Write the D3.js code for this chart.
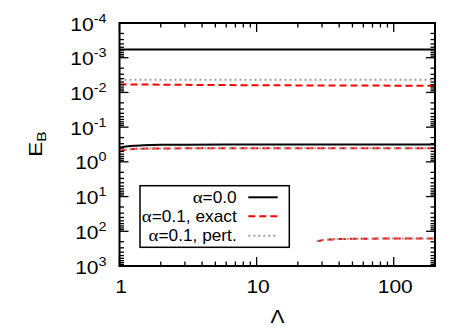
<!DOCTYPE html>
<html>
<head>
<meta charset="utf-8">
<script src="https://cdn.jsdelivr.net/npm/d3@7"></script>
<style>
  body { margin: 0; background: #fff; }
  svg { display: block; }
  text { font-family: "Liberation Sans", Arial, sans-serif; fill: #000; }
</style>
</head>
<body>
<svg id="chart" width="466" height="327"></svg>
<script>
// tick labels
const lambdaTicks = [1, 10, 100];
const energyExps = [-4, -3, -2, -1, 0, 1, 2, 3];

// [Lambda, E_B]
const alpha0Top = [[1, 5.8e-4], [10, 5.8e-4], [200, 5.8e-4]];
const alpha0Mid = [[1, 0.39], [1.2, 0.35], [1.5, 0.333], [2, 0.323], [3, 0.319], [10, 0.318], [200, 0.318]];
const exactTop = [[1, 5.85e-3], [3, 6.05e-3], [10, 6.2e-3], [30, 6.3e-3], [200, 6.4e-3]];
const exactMid = [[1, 0.48], [1.15, 0.44], [1.4, 0.42], [2, 0.41], [5, 0.408], [200, 0.408]];
const exactLow = [[27.5, 195], [30, 182], [35, 172], [45, 166], [70, 163], [120, 161], [200, 160]];
const pertTop = [[1, 4.3e-3], [10, 4.3e-3], [200, 4.3e-3]];
const pertMid = [[1, 0.47], [1.15, 0.435], [1.4, 0.418], [2, 0.41], [5, 0.407], [200, 0.407]];
const pertLow = [[27.5, 193], [30, 181], [35, 172], [45, 166], [70, 163], [120, 161], [200, 160]];

const legendLabels = ['α=0.0', 'α=0.1, exact', 'α=0.1, pert.'];

const box = { left: 119.5, right: 435, top: 23, bottom: 266 };

const svg = d3.select('#chart');

const x = d3.scaleLog().domain([1, 200]).range([box.left, box.right]);
const y = d3.scaleLog().domain([1e-4, 1e3]).range([box.top, box.bottom]);

const styles = {
  black: { stroke: '#000', width: 2, dash: null },
  red: { stroke: '#ff0000', width: 2, dash: '7,4' },
  gray: { stroke: '#a0a0a0', width: 2, dash: '2,3' }
};

const line = d3.line()
  .x(d => x(d[0]))
  .y(d => y(d[1]))
  .curve(d3.curveMonotoneX);

const plot = svg.append('g');
plot.append('clipPath').attr('id', 'clip')
  .append('rect')
  .attr('x', box.left).attr('y', box.top)
  .attr('width', box.right - box.left).attr('height', box.bottom - box.top);

const series = [
  { data: alpha0Top, s: styles.black },
  { data: alpha0Mid, s: styles.black },
  { data: exactTop, s: styles.red },
  { data: exactMid, s: styles.red },
  { data: exactLow, s: styles.red },
  { data: pertTop, s: styles.gray },
  { data: pertMid, s: styles.gray },
  { data: pertLow, s: styles.gray }
];

plot.append('g').attr('clip-path', 'url(#clip)')
  .selectAll('path')
  .data(series)
  .join('path')
  .attr('d', d => line(d.data))
  .attr('fill', 'none')
  .attr('stroke', d => d.s.stroke)
  .attr('stroke-width', d => d.s.width)
  .attr('stroke-dasharray', d => d.s.dash);

// ticks (inward, mirrored on all four sides)
const majorLen = 9, minorLen = 4.5;
const isMajor = v => Math.abs(Math.log10(v) - Math.round(Math.log10(v))) < 1e-9;

const xt = x.ticks();
const yt = y.ticks();

const ticks = svg.append('g').attr('stroke', '#000').attr('stroke-width', 1.3);
xt.forEach(v => {
  const len = isMajor(v) ? majorLen : minorLen;
  ticks.append('line').attr('x1', x(v)).attr('x2', x(v)).attr('y1', box.bottom).attr('y2', box.bottom - len);
  ticks.append('line').attr('x1', x(v)).attr('x2', x(v)).attr('y1', box.top).attr('y2', box.top + len);
});
yt.forEach(v => {
  const len = isMajor(v) ? majorLen : minorLen;
  ticks.append('line').attr('y1', y(v)).attr('y2', y(v)).attr('x1', box.left).attr('x2', box.left + len);
  ticks.append('line').attr('y1', y(v)).attr('y2', y(v)).attr('x1', box.right).attr('x2', box.right - len);
});

svg.append('rect')
  .attr('x', box.left).attr('y', box.top)
  .attr('width', box.right - box.left).attr('height', box.bottom - box.top)
  .attr('fill', 'none').attr('stroke', '#000').attr('stroke-width', 2);

// x tick labels
const sx = 1.2;
svg.append('g').selectAll('text')
  .data(lambdaTicks)
  .join('text')
  .attr('transform', d => `translate(${x(d) + 1.5},293) scale(${sx},1)`)
  .attr('text-anchor', 'middle')
  .attr('font-size', 17.5)
  .text(d => d);

// y tick labels with superscripts
const yl = svg.append('g').selectAll('text')
  .data(energyExps)
  .join('text')
  .attr('transform', d => `translate(106.5,${y(Math.pow(10, d)) + 7.5}) scale(${sx},1)`)
  .attr('text-anchor', 'end')
  .attr('font-size', 17.5);
yl.append('tspan').text('10');
yl.append('tspan').attr('font-size', 12).attr('dy', -8).text(d => d < 0 ? '-' + (-d) : d);

// axis titles
svg.append('text')
  .attr('transform', `translate(277.5,323) scale(1.1,1)`)
  .attr('text-anchor', 'middle')
  .attr('font-family', '"Liberation Serif", "Times New Roman", serif')
  .attr('font-size', 19)
  .text('Λ');

const yTitle = svg.append('text')
  .attr('transform', 'translate(42,144) rotate(-90) scale(1.25,1)')
  .attr('text-anchor', 'middle')
  .attr('font-size', 18);
yTitle.append('tspan').text('E');
yTitle.append('tspan').attr('font-size', 12.5).attr('dy', 4).text('B');

// legend
const leg = svg.append('g');
leg.append('rect')
  .attr('x', 140).attr('y', 185.7)
  .attr('width', 149.3).attr('height', 61.6)
  .attr('fill', '#fff').attr('stroke', '#000').attr('stroke-width', 1.5);

const legStyles = [styles.black, styles.red, styles.gray];
const rowY = [197.3, 216.3, 235.7];

const rows = leg.selectAll('g.row')
  .data(legendLabels)
  .join('g')
  .attr('class', 'row');

rows.append('line')
  .attr('x1', 248.3).attr('x2', 277.7)
  .attr('y1', (d, i) => rowY[i]).attr('y2', (d, i) => rowY[i])
  .attr('stroke', (d, i) => legStyles[i].stroke)
  .attr('stroke-width', (d, i) => legStyles[i].width)
  .attr('stroke-dasharray', (d, i) => legStyles[i].dash);

const lt = rows.append('text')
  .attr('transform', (d, i) => `translate(236.7,${rowY[i] + 5.5}) scale(1.08,1)`)
  .attr('text-anchor', 'end')
  .attr('font-size', 16);
lt.append('tspan').attr('font-family', '"Liberation Serif", serif').attr('font-size', 17.5).text('α');
lt.append('tspan').text(d => d.slice(1));
</script>
</body>
</html>
